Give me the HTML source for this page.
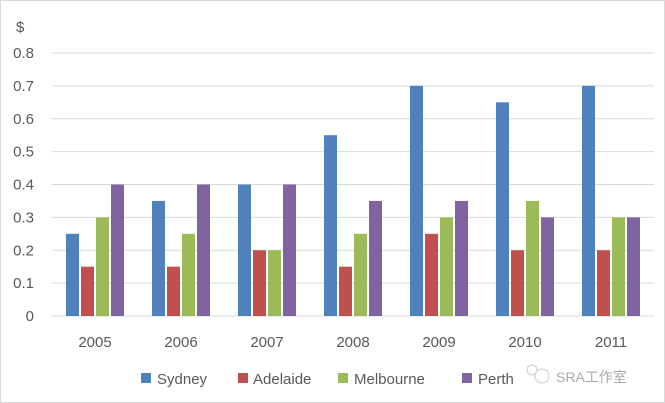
<!DOCTYPE html>
<html><head><meta charset="utf-8">
<style>
html,body{margin:0;padding:0;background:#fff;}
svg{display:block;font-family:"Liberation Sans","Noto Sans CJK SC",sans-serif;}
</style></head>
<body>
<svg id="chart" width="665" height="403" viewBox="0 0 665 403">
<rect x="0.5" y="0.5" width="664" height="402" fill="#fff" stroke="#d9d9d9"/>
<text x="16" y="32" font-size="15" fill="#595959">$</text>
<g id="grid"></g><g id="bars"></g><g id="xlabels"></g>
<g>
<rect x="141" y="373" width="10" height="10" fill="#4f81bd"/>
<text x="157" y="384" font-size="15" fill="#595959">Sydney</text>
<rect x="238" y="373" width="10" height="10" fill="#c0504d"/>
<text x="253" y="384" font-size="15" fill="#595959">Adelaide</text>
<rect x="338" y="373" width="10" height="10" fill="#9bbb59"/>
<text x="354" y="384" font-size="15" fill="#595959">Melbourne</text>
<rect x="462" y="373" width="10" height="10" fill="#8064a2"/>
<text x="478" y="384" font-size="15" fill="#595959">Perth</text>
</g>
<g>
<circle cx="542" cy="376" r="7" fill="none" stroke="#ccc"/>
<circle cx="532" cy="370" r="5" fill="none" stroke="#ccc"/>
<text x="556" y="382" font-size="14" fill="#aaa">SRA工作室</text>
</g>
</svg>
<script>
const categories=["2005","2006","2007","2008","2009","2010","2011"];
const sydney=[0.25,0.35,0.4,0.55,0.7,0.65,0.7];
const adelaide=[0.15,0.15,0.2,0.15,0.25,0.2,0.2];
const melbourne=[0.3,0.25,0.2,0.25,0.3,0.35,0.3];
const perth=[0.4,0.4,0.4,0.35,0.35,0.3,0.3];
const yTicks=["0","0.1","0.2","0.3","0.4","0.5","0.6","0.7","0.8"];
const seriesNames=["sydney","adelaide","melbourne","perth"];
const ns="http://www.w3.org/2000/svg";
const x0=52,x1=654,yb=316,yt=53,ymax=0.8;
const y=v=>yb-(v/ymax)*(yb-yt);
const bandW=(x1-x0)/categories.length;
const xc=i=>x0+bandW*(i+0.5);
const grid=document.getElementById('grid');
yTicks.forEach(t=>{const v=parseFloat(t);
 const l=document.createElementNS(ns,'line');
 l.setAttribute('x1',x0);l.setAttribute('x2',x1);l.setAttribute('y1',y(v));l.setAttribute('y2',y(v));
 l.setAttribute('stroke',v===0?'#d9d9d9':'#d9d9d9');
 
 
 grid.appendChild(l);
 const tx=document.createElementNS(ns,'text');
 tx.setAttribute('x',34);tx.setAttribute('y',y(v)+5);tx.setAttribute('text-anchor','end');
 tx.setAttribute('font-size','15');tx.setAttribute('fill','#595959');tx.textContent=t;
 
 
 grid.appendChild(tx);
});
const series=[sydney,adelaide,melbourne,perth];
const colors=["#4f81bd","#c0504d","#9bbb59","#8064a2"];
const bw=13,step=15;
const bars=document.getElementById('bars');
series.forEach((s,si)=>{s.forEach((v,i)=>{
 const r=document.createElementNS(ns,'rect');
 const bx=xc(i)-2*step+si*step+1;
 r.setAttribute('x',bx);r.setAttribute('y',y(v));r.setAttribute('width',bw);r.setAttribute('height',yb-y(v));
 r.setAttribute('fill',colors[si]);
 
 
 bars.appendChild(r);
});});
const xl=document.getElementById('xlabels');
categories.forEach((c,i)=>{
 const t=document.createElementNS(ns,'text');
 t.setAttribute('x',xc(i));t.setAttribute('y',347);t.setAttribute('text-anchor','middle');
 t.setAttribute('font-size','15');t.setAttribute('fill','#595959');t.textContent=c;
 
 
 xl.appendChild(t);
});
</script>
</body></html>
